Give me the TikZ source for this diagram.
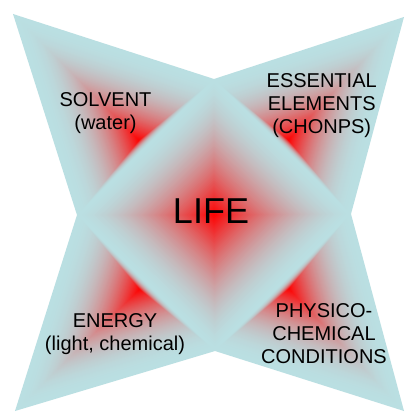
\documentclass[tikz,border=0pt]{standalone}
\usepackage{fontspec}
\setmainfont{Liberation Sans}
\usetikzlibrary{calc}
\definecolor{edgecyan}{RGB}{186,223,226}
\definecolor{corered}{RGB}{255,0,0}
\tikzset{
  labeltext/.style={align=center, inner sep=0pt, font=\fontsize{20}{23.3}\selectfont, text=black},
  lifetext/.style={inner sep=0pt, font=\fontsize{36}{40}\selectfont, text=black}
}
% #1 exponent, #2 centre, #3-#5 vertices
\newcommand\burstthree[5]{%
  \foreach \i in {79,78,...,1}{%
    \pgfmathsetmacro\gLvl{\i/80}%
    \pgfmathsetmacro\gPct{100*(1-\gLvl)^#1}%
    \fill[corered!\gPct!edgecyan] ($(#2)!\gLvl!(#3)$) -- ($(#2)!\gLvl!(#4)$) -- ($(#2)!\gLvl!(#5)$) -- cycle;
  }}
\newcommand\burstfour[6]{%
  \foreach \i in {79,78,...,1}{%
    \pgfmathsetmacro\gLvl{\i/80}%
    \pgfmathsetmacro\gPct{100*(1-\gLvl)^#1}%
    \fill[corered!\gPct!edgecyan] ($(#2)!\gLvl!(#3)$) -- ($(#2)!\gLvl!(#4)$) -- ($(#2)!\gLvl!(#5)$) -- ($(#2)!\gLvl!(#6)$) -- cycle;
  }}
\begin{document}
\begin{tikzpicture}[x=1pt,y=-1pt]
\useasboundingbox (0,0) rectangle (404,412);
\fill[white] (0,0) rectangle (404,412);
% diamond vertices
\coordinate (dT) at (214,79);
\coordinate (dL) at (77,215);
\coordinate (dR) at (351,214);
\coordinate (dB) at (215,351);
\coordinate (dC) at (214,215);
% outer points
\coordinate (oTL) at (13,14);
\coordinate (oTR) at (404,17);
\coordinate (oBL) at (15,411);
\coordinate (oBR) at (404,411);
% petal centres
\coordinate (cTL) at ($(dL)!0.5!(dT)!0.05!(oTL)$);
\coordinate (cTR) at ($(dT)!0.5!(dR)!0.05!(oTR)$);
\coordinate (cBL) at ($(dL)!0.5!(dB)!0.05!(oBL)$);
\coordinate (cBR) at ($(dR)!0.5!(dB)!0.05!(oBR)$);
% base fill of whole star
\fill[edgecyan] (dT) -- (oTR) -- (dR) -- (oBR) -- (dB) -- (oBL) -- (dL) -- (oTL) -- cycle;
\burstthree{2.2}{cTL}{dL}{oTL}{dT}
\burstthree{2.2}{cTR}{dT}{oTR}{dR}
\burstthree{2.2}{cBL}{dL}{oBL}{dB}
\burstthree{2.2}{cBR}{dR}{oBR}{dB}
\burstfour{1.7}{dC}{dT}{dR}{dB}{dL}
% texts
\node[lifetext] (life) at (211,211) {LIFE};
\node[labeltext, anchor=north] (solvent) at (105.5,92) {SOLVENT\\(water)};
\node[labeltext, anchor=north] (elements) at (321.7,73) {ESSENTIAL\\ELEMENTS\\(CHONPS)};
\node[labeltext, anchor=north] (energy) at (115,313) {ENERGY\\(light, chemical)};
\node[labeltext, anchor=north] (physico) at (324,303) {PHYSICO-\\CHEMICAL\\CONDITIONS};
\end{tikzpicture}
\end{document}
